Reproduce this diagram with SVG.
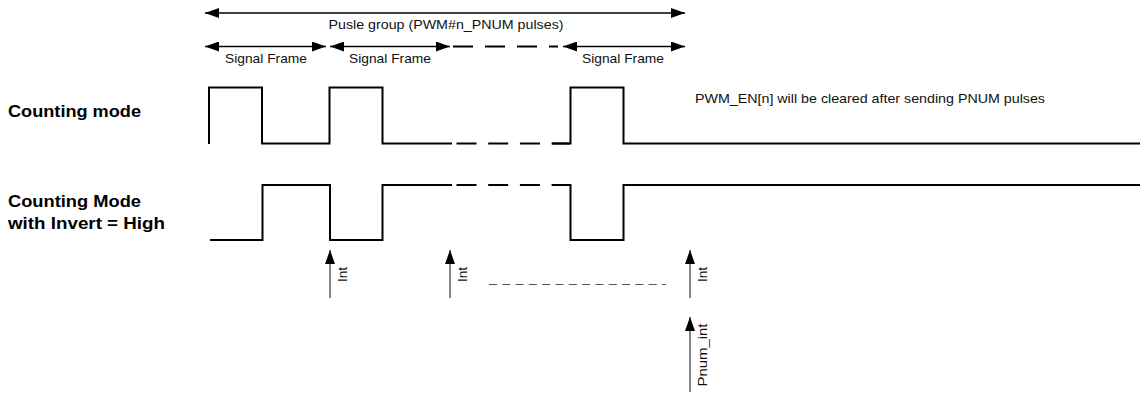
<svg xmlns="http://www.w3.org/2000/svg" width="1140" height="394" viewBox="0 0 1140 394">
<style>
.wave{fill:none;stroke:#000;stroke-width:2;stroke-linejoin:miter}
.dash{fill:none;stroke:#000;stroke-width:2;stroke-dasharray:20 11.7}
.dim{fill:none;stroke:#000;stroke-width:1.3}
.dimdash{fill:none;stroke:#000;stroke-width:2;stroke-dasharray:20 12}
.intl{fill:none;stroke:#444;stroke-width:1.3}
.gdash{fill:none;stroke:#555;stroke-width:1.2;stroke-dasharray:8 5.3}
.lbl{font-family:"Liberation Sans",Arial,sans-serif;font-size:13px;fill:#111}
.big{font-family:"Liberation Sans",Arial,sans-serif;font-size:17px;font-weight:bold;fill:#000}
</style>
<defs>
<marker id="ah" viewBox="0 0 14 10" refX="14" refY="5" markerWidth="14" markerHeight="10" markerUnits="userSpaceOnUse" orient="auto-start-reverse">
<path d="M0,0 L14,5 L0,10 z" fill="#000"/>
</marker>
<marker id="ai" viewBox="0 0 14 10" refX="14" refY="5" markerWidth="15" markerHeight="10" markerUnits="userSpaceOnUse" orient="auto">
<path d="M0,0 L14,5 L0,10 z" fill="#000"/>
</marker>
</defs>

<g id="labels">
<text class="big" x="8" y="117" textLength="133" lengthAdjust="spacingAndGlyphs">Counting mode</text>
<text class="big" x="8" y="207" textLength="133" lengthAdjust="spacingAndGlyphs">Counting Mode</text>
<text class="big" x="8" y="229" textLength="157" lengthAdjust="spacingAndGlyphs">with Invert = High</text>
</g>

<g id="dimensions">
<line class="dim" x1="205" y1="13" x2="685" y2="13" marker-start="url(#ah)" marker-end="url(#ah)"/>
<text class="lbl" x="446" y="29" text-anchor="middle" textLength="235" lengthAdjust="spacingAndGlyphs">Pusle group (PWM#n_PNUM pulses)</text>
<line class="dim" x1="205" y1="46.5" x2="326" y2="46.5" marker-start="url(#ah)" marker-end="url(#ah)"/>
<line class="dim" x1="330" y1="46.5" x2="450" y2="46.5" marker-start="url(#ah)" marker-end="url(#ah)"/>
<line class="dimdash" x1="453" y1="46.5" x2="558" y2="46.5"/>
<line class="dim" x1="563" y1="46.5" x2="685" y2="46.5" marker-start="url(#ah)" marker-end="url(#ah)"/>
<text class="lbl" x="266" y="62.5" text-anchor="middle" textLength="82" lengthAdjust="spacingAndGlyphs">Signal Frame</text>
<text class="lbl" x="390" y="62.5" text-anchor="middle" textLength="82" lengthAdjust="spacingAndGlyphs">Signal Frame</text>
<text class="lbl" x="623" y="62.5" text-anchor="middle" textLength="82" lengthAdjust="spacingAndGlyphs">Signal Frame</text>
</g>

<g id="wave-counting">
<path class="wave" d="M209,144 V87.5 H262 V143.5 H329.5 V87.5 H382.5 V143.5 H452"/>
<line class="dash" x1="456.5" y1="143.5" x2="570" y2="143.5"/>
<path class="wave" d="M552,143.5 H570.5 V87.5 H623.5 V143.5 H1140"/>
<text class="lbl" x="695" y="102.5" textLength="350" lengthAdjust="spacingAndGlyphs">PWM_EN[n] will be cleared after sending PNUM pulses</text>
</g>

<g id="wave-invert">
<path class="wave" d="M210,240 H262.5 V185 H330 V240 H382.5 V185 H452"/>
<line class="dash" x1="456.5" y1="185" x2="570" y2="185"/>
<path class="wave" d="M552,185 H570.5 V240 H623.5 V185 H1140"/>
</g>

<g id="connectors">
<line class="intl" x1="330" y1="298" x2="330" y2="250" marker-end="url(#ai)"/>
<line class="intl" x1="450" y1="298" x2="450" y2="250" marker-end="url(#ai)"/>
<line class="intl" x1="690" y1="298" x2="690" y2="250" marker-end="url(#ai)"/>
<line class="intl" x1="690" y1="392" x2="690" y2="317" marker-end="url(#ai)"/>
<line class="gdash" x1="489" y1="284.5" x2="666" y2="284.5"/>
</g>

<g id="int-labels">
<text class="lbl" transform="translate(347,274.5) rotate(-90)" text-anchor="middle" textLength="15" lengthAdjust="spacingAndGlyphs">Int</text>
<text class="lbl" transform="translate(467,274.5) rotate(-90)" text-anchor="middle" textLength="15" lengthAdjust="spacingAndGlyphs">Int</text>
<text class="lbl" transform="translate(707,274.5) rotate(-90)" text-anchor="middle" textLength="15" lengthAdjust="spacingAndGlyphs">Int</text>
<text class="lbl" transform="translate(707,355) rotate(-90)" text-anchor="middle" textLength="63" lengthAdjust="spacingAndGlyphs">Pnum_int</text>
</g>
</svg>
